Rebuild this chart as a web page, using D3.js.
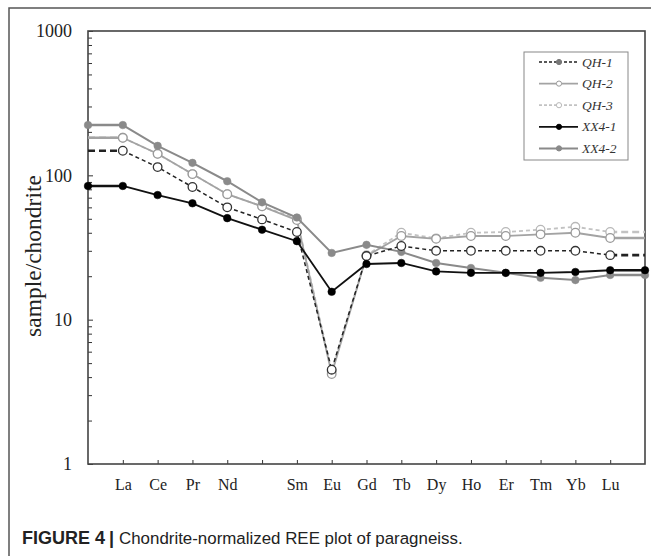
<!DOCTYPE html>
<html lang="en">
<head>
    <meta charset="utf-8">
    <title>Chondrite-normalized REE plot</title>
    <style>
        body { margin: 0; background: #fff; }
        .axis path, .axis line { fill: none; stroke: #333; }
        .axis text { font-family: "Liberation Serif", "Times New Roman", serif; fill: #222; }
    </style>
    <script src="https://d3js.org/d3.v7.min.js"></script>
</head>
<body>
<svg></svg>
<script>
    const width = 651;
    const height = 556;

    // REE order, Pm left without a label
    const elements = ['La', 'Ce', 'Pr', 'Nd', '', 'Sm', 'Eu', 'Gd', 'Tb', 'Dy', 'Ho', 'Er', 'Tm', 'Yb', 'Lu'];
    const yTicks = [1, 10, 100, 1000];

    const qh1 = [148, 114, 83, 60, 49.5, 40.5, 4.5, 27.6, 32.4, 30, 30, 30, 30, 30, 28];
    const qh2 = [182, 141, 102, 74, 61, 49, 4.2, 27.6, 38, 36.3, 38, 38, 39, 40, 36.8];
    const qh3 = [182, 141, 102, 74, 61, 50, 4.4, 28, 40, 36.6, 40, 40.5, 42, 44, 40.5];
    const xx41 = [84.4, 73, 64, 50.5, 42, 35, 15.6, 24.3, 24.7, 21.6, 21.1, 21.1, 21.1, 21.4, 22];
    const xx42 = [223, 160, 122, 91, 65, 51, 29, 33, 29.5, 24.7, 22.8, 21.1, 19.5, 18.8, 20.4];

    const series = [
        {name: 'QH-3', values: qh3, color: '#c2c2c2', width: 1.8, dash: '4,3', open: true, mark: '#b8b8b8'},
        {name: 'QH-2', values: qh2, color: '#a3a3a3', width: 1.8, dash: null, open: true, mark: '#9a9a9a'},
        {name: 'XX4-2', values: xx42, color: '#8a8a8a', width: 2, dash: null, open: false, mark: '#8a8a8a'},
        {name: 'QH-1', values: qh1, color: '#222', width: 1.5, dash: '4,3', open: true, mark: '#333'},
        {name: 'XX4-1', values: xx41, color: '#111', width: 1.8, dash: null, open: false, mark: '#000'}
    ];
    const legendOrder = ['QH-1', 'QH-2', 'QH-3', 'XX4-1', 'XX4-2'];

    const plot = {left: 88, top: 31, right: 645, bottom: 464};

    const svg = d3.select('svg').attr('width', width).attr('height', height);

    // outer figure frame
    svg.append('rect')
        .attr('x', 9).attr('y', 8)
        .attr('width', 700).attr('height', 600)
        .attr('fill', 'none')
        .attr('stroke', '#555')
        .attr('stroke-width', 1.5);

    // index 0 and 16 are the plot edges, La..Lu sit on 1..15
    const x = d3.scaleLinear().domain([0, elements.length + 1]).range([plot.left, plot.right]);
    const y = d3.scaleLog().domain([1, 1000]).range([plot.bottom, plot.top]);

    // y axis, ticks inward
    const minor = [];
    yTicks.slice(0, -1).forEach(t => d3.range(2, 10).forEach(k => minor.push(t * k)));

    svg.append('g')
        .attr('class', 'axis')
        .attr('transform', `translate(${plot.left},0)`)
        .call(d3.axisLeft(y).tickValues(minor).tickSize(-4).tickFormat(''))
        .call(g => g.select('.domain').remove());

    svg.append('g')
        .attr('class', 'axis')
        .attr('transform', `translate(${plot.left},0)`)
        .call(d3.axisLeft(y).tickValues(yTicks).tickSize(-5).tickPadding(16).tickFormat(d3.format('d')))
        .call(g => g.select('.domain').remove())
        .selectAll('text')
        .style('font-size', '18px');

    // x axis
    svg.append('g')
        .attr('class', 'axis')
        .attr('transform', `translate(0,${plot.bottom})`)
        .call(d3.axisBottom(x)
            .tickValues(d3.range(1, elements.length + 1))
            .tickSize(-4)
            .tickPadding(15)
            .tickFormat(i => elements[i - 1]))
        .call(g => g.select('.domain').remove())
        .selectAll('text')
        .style('font-size', '16px');

    // plot box
    svg.append('rect')
        .attr('x', plot.left).attr('y', plot.top)
        .attr('width', plot.right - plot.left)
        .attr('height', plot.bottom - plot.top)
        .attr('fill', 'none')
        .attr('stroke', '#444')
        .attr('stroke-width', 1.6);

    svg.append('text')
        .attr('transform', 'translate(33,256) rotate(-90)')
        .attr('text-anchor', 'middle')
        .attr('dominant-baseline', 'central')
        .style('font-family', '"Liberation Serif", "Times New Roman", serif')
        .style('font-size', '23.5px')
        .style('fill', '#222')
        .text('sample/chondrite');

    const line = d3.line().x(d => x(d.i)).y(d => y(d.v));

    series.forEach(s => {
        const pts = s.values.map((v, k) => ({i: k + 1, v: v}));
        const n = pts.length;
        const ends = [
            [{i: 0, v: s.values[0]}, pts[0]],
            [pts[n - 1], {i: n + 1, v: s.values[n - 1]}]
        ];
        const g = svg.append('g');

        g.selectAll('.ext')
            .data(ends)
            .enter().append('path')
            .attr('class', 'ext')
            .attr('d', line)
            .attr('fill', 'none')
            .attr('stroke', s.color)
            .attr('stroke-width', 2.6)
            .attr('stroke-dasharray', s.dash ? '7,4' : null);

        g.append('path')
            .datum(pts)
            .attr('d', line)
            .attr('fill', 'none')
            .attr('stroke', s.color)
            .attr('stroke-width', s.width)
            .attr('stroke-dasharray', s.dash);

        const markPts = s.open ? pts : [ends[0][0]].concat(pts, [ends[1][1]]);
        g.selectAll('circle')
            .data(markPts)
            .enter().append('circle')
            .attr('cx', d => x(d.i))
            .attr('cy', d => y(d.v))
            .attr('r', s.open ? 4.3 : 3.8)
            .attr('fill', s.open ? '#fff' : s.mark)
            .attr('stroke', s.mark)
            .attr('stroke-width', s.open ? 1.3 : 0.5);
    });

    // legend
    const legend = svg.append('g');
    legend.append('rect')
        .attr('x', 524).attr('y', 52)
        .attr('width', 104).attr('height', 108)
        .attr('fill', '#fff')
        .attr('stroke', '#888')
        .attr('stroke-width', 1);

    legendOrder.forEach((name, k) => {
        const s = series.find(d => d.name === name);
        const ly = 62 + k * 21.6;
        legend.append('line')
            .attr('x1', 539).attr('x2', 578)
            .attr('y1', ly).attr('y2', ly)
            .attr('stroke', s.color)
            .attr('stroke-width', s.width)
            .attr('stroke-dasharray', s.dash ? '3,2' : null);
        legend.append('circle')
            .attr('cx', 559).attr('cy', ly)
            .attr('r', 2.6)
            .attr('fill', name === 'QH-1' ? '#777' : (s.open ? '#fff' : s.mark))
            .attr('stroke', name === 'QH-1' ? '#777' : s.mark)
            .attr('stroke-width', 1);
        legend.append('text')
            .attr('x', 582).attr('y', ly)
            .attr('dominant-baseline', 'central')
            .style('font-family', '"Liberation Serif", "Times New Roman", serif')
            .style('font-style', 'italic')
            .style('font-size', '13.5px')
            .style('fill', '#333')
            .text(name);
    });

    // caption
    const caption = svg.append('text')
        .attr('y', 544)
        .style('font-family', '"Liberation Sans", Arial, sans-serif')
        .style('font-size', '16.9px')
        .style('fill', '#222');
    caption.append('tspan').attr('x', 22).style('font-weight', 'bold').style('font-size', '18px').text('FIGURE 4');
    caption.append('tspan').attr('x', 109).style('font-weight', 'bold').style('font-size', '18px').text('|');
    caption.append('tspan').attr('x', 119).text('Chondrite-normalized REE plot of paragneiss.');
</script>
</body>
</html>
